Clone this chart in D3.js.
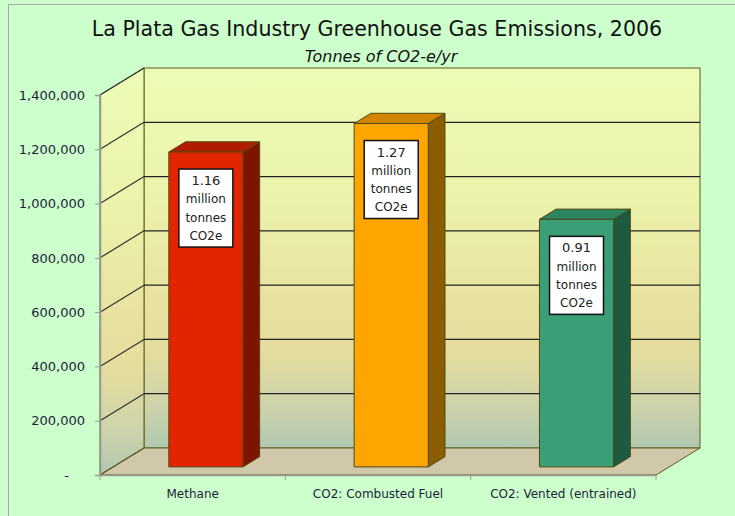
<!DOCTYPE html>
<html>
<head>
<meta charset="utf-8">
<script src="https://cdn.jsdelivr.net/npm/d3@7"></script>
<style>
  html, body { margin: 0; padding: 0; background: #ccffcc; }
  svg { display: block; font-family: 'DejaVu Sans', sans-serif; }
</style>
</head>
<body>
<svg width="735" height="516"></svg>
<script>
const CATEGORIES = ['Methane', 'CO2: Combusted Fuel', 'CO2: Vented (entrained)']
const VALUES = [1160000, 1265000, 912000]
const LABELS = ['1.16', '1.27', '0.91']
const LABEL_UNITS = ['million', 'tonnes', 'CO2e']
const TICKS = [0, 200000, 400000, 600000, 800000, 1000000, 1200000, 1400000]
const COLORS = [
  { front: '#e32400', side: '#7e1300', top: '#b01c00' },
  { front: '#ffa500', side: '#8c5c00', top: '#d08400' },
  { front: '#3a9f76', side: '#1d5a3f', top: '#2c8460' }
]

const svg = d3.select('svg')
const DX = 44
const DY = -27
const BAR_FRONT = 0.3
const BAR_BACK = 0.68

const x = d3.scaleBand().domain(CATEGORIES).range([100, 656])
const xBar = d3.scaleBand().domain(CATEGORIES).range([100, 656])
  .paddingInner(0.6).paddingOuter(0.3)
const y = d3.scaleLinear().domain([0, 1400000]).range([475, 95])
const yMax = 1400000

// outer frame
svg.append('rect')
  .attr('x', 8.5).attr('y', 4.5).attr('width', 740).attr('height', 520)
  .attr('fill', '#ccffcc').attr('stroke', '#a8a8a8')

// back wall gradient
const defs = svg.append('defs')
const grad = defs.append('linearGradient').attr('id', 'wall')
  .attr('x1', 0).attr('y1', 0).attr('x2', 0).attr('y2', 1)
const stops = [[0, '#ecfcb6'], [0.35, '#ecf2aa'], [0.6, '#e8e2a0'], [0.75, '#e4dc9e'], [0.88, '#cfd4aa'], [1, '#b0c8b0']]
stops.forEach(s => grad.append('stop').attr('offset', s[0]).attr('stop-color', s[1]))

const x0 = x.range()[0]
const x1 = x.range()[1]
const pt = (px, py) => px + ',' + py

// back wall
svg.append('rect')
  .attr('x', x0 + DX).attr('y', y(yMax) + DY)
  .attr('width', x1 - x0).attr('height', y(0) - y(yMax))
  .attr('fill', 'url(#wall)').attr('stroke', '#5e5a22').attr('stroke-width', 1)

// left wall
svg.append('polygon')
  .attr('points', [pt(x0, y(yMax)), pt(x0 + DX, y(yMax) + DY), pt(x0 + DX, y(0) + DY), pt(x0, y(0))].join(' '))
  .attr('fill', 'url(#wall)').attr('stroke', '#5e5a22').attr('stroke-width', 1)

// floor
svg.append('polygon')
  .attr('points', [pt(x0, y(0)), pt(x0 + DX, y(0) + DY), pt(x1 + DX, y(0) + DY), pt(x1, y(0))].join(' '))
  .attr('fill', '#d0c8a8').attr('stroke', '#5e5a22').attr('stroke-width', 1)

// gridlines
const grid = svg.append('g')
TICKS.filter(t => t > 0 && t < yMax).forEach(t => {
  grid.append('line')
    .attr('x1', x0 + DX).attr('x2', x1 + DX)
    .attr('y1', y(t) + DY).attr('y2', y(t) + DY)
    .attr('stroke', '#222').attr('stroke-width', 1.2)
})
TICKS.forEach(t => {
  grid.append('line')
    .attr('x1', x0).attr('y1', y(t))
    .attr('x2', x0 + DX).attr('y2', y(t) + DY)
    .attr('stroke', t === 0 ? '#5e5a22' : '#333').attr('stroke-width', 1.2)
})

// bars
const bars = svg.append('g')
CATEGORIES.forEach((cat, i) => {
  const fx = xBar(cat) + DX * BAR_FRONT
  const fy = DY * BAR_FRONT
  const w = xBar.bandwidth()
  const ddx = DX * (BAR_BACK - BAR_FRONT)
  const ddy = DY * (BAR_BACK - BAR_FRONT)
  const top = y(VALUES[i]) + fy
  const bottom = y(0) + fy
  const c = COLORS[i]
  const g = bars.append('g')
    .attr('stroke', '#4d4a12').attr('stroke-width', 1).attr('stroke-linejoin', 'round')

  g.append('polygon')
    .attr('points', [pt(fx + w, top), pt(fx + w + ddx, top + ddy), pt(fx + w + ddx, bottom + ddy), pt(fx + w, bottom)].join(' '))
    .attr('fill', c.side)
  g.append('polygon')
    .attr('points', [pt(fx, top), pt(fx + ddx, top + ddy), pt(fx + w + ddx, top + ddy), pt(fx + w, top)].join(' '))
    .attr('fill', c.top)
  g.append('rect')
    .attr('x', fx).attr('y', top).attr('width', w).attr('height', bottom - top)
    .attr('fill', c.front)

  // label box
  const bw = 54
  const bh = 78
  const cx = fx + w / 2
  const by = top + 17
  svg.append('rect')
    .attr('x', cx - bw / 2).attr('y', by).attr('width', bw).attr('height', bh)
    .attr('fill', '#fff').attr('stroke', '#111').attr('stroke-width', 1.5)
  const lines = [LABELS[i]].concat(LABEL_UNITS)
  svg.append('text')
    .attr('text-anchor', 'middle').attr('font-size', 12).attr('fill', '#222')
    .selectAll('tspan').data(lines).join('tspan')
    .attr('x', cx).attr('y', (d, k) => by + 16 + k * 18.3)
    .attr('font-size', (d, k) => k === 0 ? 13 : 12)
    .text(d => d)
})

// y axis
const yAxis = svg.append('g')
  .attr('transform', `translate(${x0},0)`)
  .call(d3.axisLeft(y).tickValues(TICKS).tickSize(5).tickPadding(10)
    .tickFormat(d => d === 0 ? '-' : d3.format(',')(d)))
yAxis.select('.domain').attr('stroke', '#999').attr('stroke-width', 1.5)
yAxis.selectAll('.tick line').attr('stroke', '#999')
yAxis.selectAll('.tick text')
  .attr('font-size', 13).attr('font-family', 'DejaVu Sans, sans-serif').attr('fill', '#1e1e3c')
  .attr('dx', d => d === 0 ? -16 : 0)

// x axis
const xAxis = svg.append('g')
  .attr('transform', `translate(0,${y(0)})`)
  .call(d3.axisBottom(x).tickSize(0).tickPadding(14))
xAxis.select('.domain').attr('stroke', '#999').attr('stroke-width', 1.5)
xAxis.selectAll('.tick text')
  .attr('font-size', 12).attr('font-family', 'DejaVu Sans, sans-serif').attr('fill', '#1e1e3c')
const bounds = [x0].concat(CATEGORIES.map(c => x(c) + x.bandwidth()))
xAxis.selectAll('.sep').data(bounds).join('line')
  .attr('class', 'sep')
  .attr('x1', d => d).attr('x2', d => d).attr('y1', 0).attr('y2', 5)
  .attr('stroke', '#999')

// titles
svg.append('text')
  .attr('x', 377).attr('y', 36).attr('text-anchor', 'middle')
  .attr('font-size', 20.6).attr('fill', '#111')
  .text('La Plata Gas Industry Greenhouse Gas Emissions, 2006')
svg.append('text')
  .attr('x', 381).attr('y', 62).attr('text-anchor', 'middle')
  .attr('font-size', 16).attr('font-style', 'italic').attr('fill', '#111')
  .text('Tonnes of CO2-e/yr')
</script>
</body>
</html>
